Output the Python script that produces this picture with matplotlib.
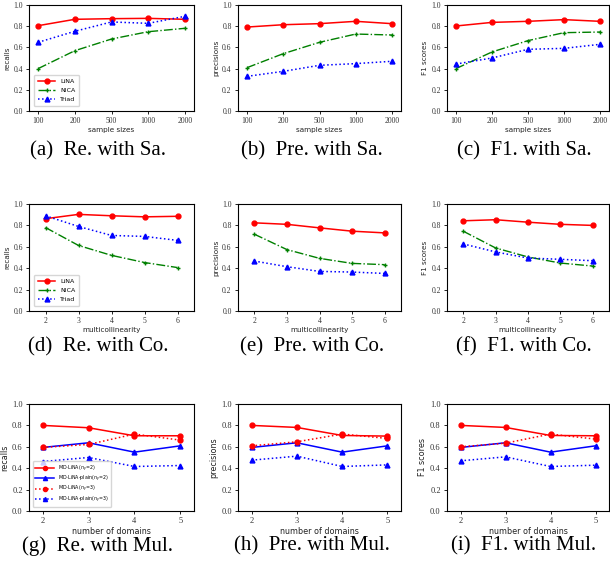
import matplotlib
matplotlib.use("Agg")
import matplotlib.pyplot as plt

# sample size experiments
sample_labels = ["100", "200", "500", "1000", "2000"]
lina_rec_sa = [0.805, 0.865, 0.871, 0.874, 0.865]
nica_rec_sa = [0.40, 0.569, 0.679, 0.748, 0.78]
triad_rec_sa = [0.648, 0.752, 0.84, 0.827, 0.893]
lina_pre_sa = [0.792, 0.814, 0.824, 0.846, 0.824]
nica_pre_sa = [0.409, 0.541, 0.648, 0.726, 0.717]
triad_pre_sa = [0.327, 0.374, 0.431, 0.447, 0.469]
lina_f1_sa = [0.802, 0.836, 0.846, 0.862, 0.846]
nica_f1_sa = [0.40, 0.557, 0.664, 0.739, 0.745]
triad_f1_sa = [0.443, 0.50, 0.582, 0.591, 0.629]

# multicollinearity experiments
colin = [2, 3, 4, 5, 6]
lina_rec_co = [0.8625, 0.903, 0.89, 0.88, 0.885]
nica_rec_co = [0.78, 0.6125, 0.52, 0.453, 0.406]
triad_rec_co = [0.89, 0.79, 0.706, 0.697, 0.66]
lina_pre_co = [0.824, 0.81, 0.777, 0.746, 0.73]
nica_pre_co = [0.718, 0.574, 0.492, 0.445, 0.433]
triad_pre_co = [0.467, 0.414, 0.37, 0.364, 0.351]
lina_f1_co = [0.843, 0.853, 0.83, 0.81, 0.80]
nica_f1_co = [0.746, 0.589, 0.505, 0.448, 0.42]
triad_f1_co = [0.627, 0.552, 0.495, 0.483, 0.47]

# multiple domain experiments
domains = [2, 3, 4, 5]
md2_rec = [0.80, 0.778, 0.703, 0.703]
plain2_rec = [0.594, 0.6375, 0.55, 0.609]
md3_rec = [0.594, 0.622, 0.719, 0.6625]
plain3_rec = [0.4625, 0.50, 0.416, 0.425]
md2_pre = [0.80, 0.781, 0.706, 0.70]
plain2_pre = [0.594, 0.6375, 0.55, 0.609]
md3_pre = [0.609, 0.647, 0.719, 0.678]
plain3_pre = [0.475, 0.5125, 0.416, 0.431]
md2_f1 = [0.80, 0.781, 0.706, 0.703]
plain2_f1 = [0.594, 0.6375, 0.55, 0.609]
md3_f1 = [0.60, 0.634, 0.719, 0.672]
plain3_f1 = [0.469, 0.506, 0.416, 0.428]

W, H = 610, 576
fig = plt.figure(figsize=(W / 100, H / 100), dpi=100)

cols = [(29, 194), (238, 401), (447, 609)]
rows = [(5, 111), (204, 311), (404, 511)]
cap_y = [151, 347, 546]
captions = [["(a)  Re. with Sa.", "(b)  Pre. with Sa.", "(c)  F1. with Sa."],
            ["(d)  Re. with Co.", "(e)  Pre. with Co.", "(f)  F1. with Co."],
            ["(g)  Re. with Mul.", "(h)  Pre. with Mul.", "(i)  F1. with Mul."]]
cap_x = [98, 312, 524]
ylabels = ["recalls", "precisions", "F1 scores"]


def make_ax(r, c):
    x0, x1 = cols[c]
    y0, y1 = rows[r]
    ax = fig.add_axes([x0 / W, 1 - y1 / H, (x1 - x0) / W, (y1 - y0) / H])
    ax.set_ylim(0, 1.0)
    ax.set_yticks([0, 0.2, 0.4, 0.6, 0.8, 1.0])
    ax.tick_params(labelsize=5.5, length=2.5, width=0.6, pad=2, labelcolor="#333333")
    for s in ax.spines.values():
        s.set_linewidth(0.8)
    fig.text(cap_x[c] / W, 1 - cap_y[r] / H, captions[r][c],
             family="Liberation Serif", fontsize=15, ha="center", va="center")
    return ax


def serif_ticks(ax):
    for lab in ax.get_xticklabels() + ax.get_yticklabels():
        lab.set_family("Liberation Serif")


def three_lines(ax, x, lina, nica, triad):
    ax.plot(x, lina, color="red", linestyle="-", marker="o", markersize=3.5,
            linewidth=1.1, label="LiNA")
    ax.plot(x, nica, color="green", linestyle="-.", marker="+", markersize=3.5,
            linewidth=1.0, label="NICA")
    ax.plot(x, triad, color="blue", linestyle=":", marker="^", markersize=3.5,
            linewidth=1.1, label="Triad")


def small_legend(ax, size, hl):
    ax.legend(loc="lower left", fontsize=size, handlelength=hl, borderpad=0.6,
              labelspacing=0.6, borderaxespad=0.8, handletextpad=0.8)


# row 1: sample sizes
sa_data = [(lina_rec_sa, nica_rec_sa, triad_rec_sa),
           (lina_pre_sa, nica_pre_sa, triad_pre_sa),
           (lina_f1_sa, nica_f1_sa, triad_f1_sa)]
pos = list(range(len(sample_labels)))
for c, (l, n, t) in enumerate(sa_data):
    ax = make_ax(0, c)
    three_lines(ax, pos, l, n, t)
    ax.set_xticks(pos)
    ax.set_xticklabels(sample_labels)
    ax.set_xlim(-0.25, 4.25)
    serif_ticks(ax)
    ax.set_xlabel("sample sizes", fontsize=5.2, labelpad=1, color="#222222")
    ax.set_ylabel(ylabels[c], fontsize=5.2, labelpad=2, color="#222222")
    if c == 0:
        small_legend(ax, 4.5, 2.8)

# row 2: multicollinearity
co_data = [(lina_rec_co, nica_rec_co, triad_rec_co),
           (lina_pre_co, nica_pre_co, triad_pre_co),
           (lina_f1_co, nica_f1_co, triad_f1_co)]
for c, (l, n, t) in enumerate(co_data):
    ax = make_ax(1, c)
    three_lines(ax, colin, l, n, t)
    ax.set_xticks(colin)
    ax.set_xlim(1.5, 6.5)
    serif_ticks(ax)
    ax.set_xlabel("multicollinearity", fontsize=5.2, labelpad=1, color="#222222")
    ax.set_ylabel(ylabels[c], fontsize=5.2, labelpad=2, color="#222222")
    if c == 0:
        small_legend(ax, 4.5, 2.8)

# row 3: number of domains
mul_data = [(md2_rec, plain2_rec, md3_rec, plain3_rec),
            (md2_pre, plain2_pre, md3_pre, plain3_pre),
            (md2_f1, plain2_f1, md3_f1, plain3_f1)]
for c, (a2, p2, a3, p3) in enumerate(mul_data):
    ax = make_ax(2, c)
    ax.plot(domains, a2, color="red", linestyle="-", marker="o", markersize=3.5,
            linewidth=1.1, label="MD-LiNA($n_y$=2)")
    ax.plot(domains, p2, color="blue", linestyle="-", marker="^", markersize=3.5,
            linewidth=1.1, label="MD-LiNA-plain($n_y$=2)")
    ax.plot(domains, a3, color="red", linestyle=":", marker="o", markersize=3.5,
            linewidth=1.1, label="MD-LiNA($n_y$=3)")
    ax.plot(domains, p3, color="blue", linestyle=":", marker="^", markersize=3.5,
            linewidth=1.1, label="MD-LiNA-plain($n_y$=3)")
    ax.set_xticks(domains)
    ax.set_xlim(1.7, 5.3)
    ax.tick_params(labelsize=6)
    serif_ticks(ax)
    ax.set_xlabel("number of domains", fontsize=5.8, labelpad=1, color="#222222")
    ax.set_ylabel(ylabels[c], fontsize=5.8, labelpad=2, color="#222222")
    if c == 0:
        ax.legend(loc="lower left", fontsize=3.4, handlelength=4, borderpad=0.5,
                  labelspacing=0.05, borderaxespad=0.8, handletextpad=0.8,
                  markerscale=0.85)

fig.savefig("out.png", dpi=100)
